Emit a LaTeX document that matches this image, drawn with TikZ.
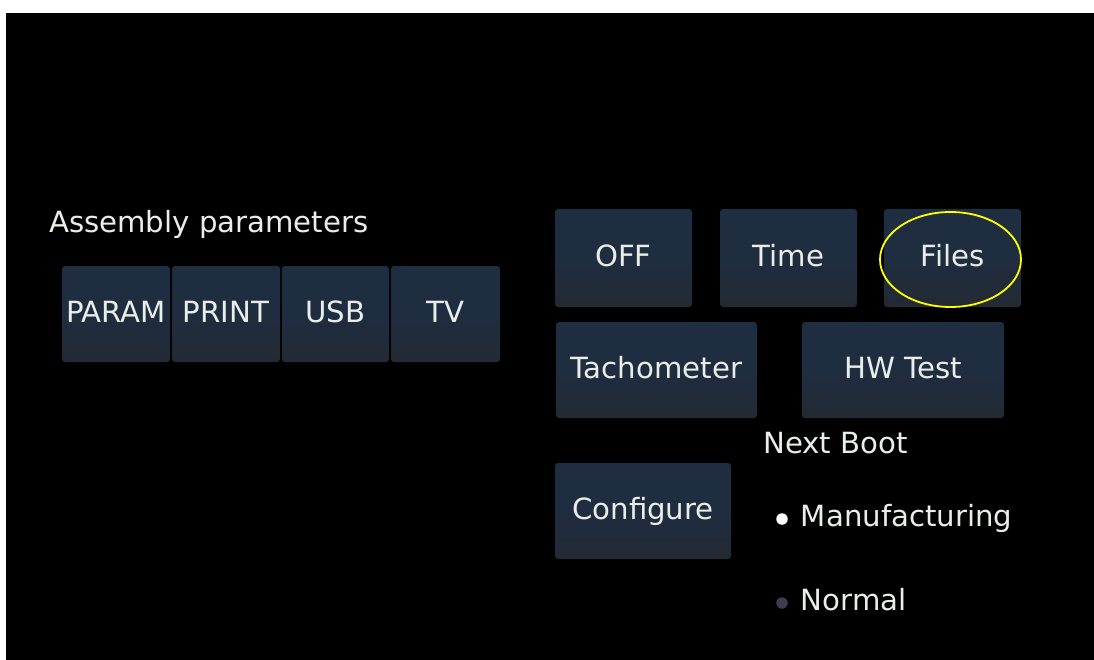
\documentclass[tikz,border=0pt]{standalone}
\usepackage{fontspec}
\setmainfont{DejaVu Sans}
\definecolor{screen}{HTML}{000000}
\definecolor{btntop}{HTML}{1F2D40}
\definecolor{btnbot}{HTML}{232A33}
\definecolor{ink}{HTML}{EAEEE9}
\definecolor{radiooff}{HTML}{3C3D4E}
\definecolor{hilite}{HTML}{FFFF00}
\tikzset{
  uitext/.style={text=ink, font=\fontsize{29.2}{36}\selectfont, inner sep=0pt},
  btn/.style={uitext, rounded corners=3pt,
    top color=btntop, bottom color=btnbot, middle color=btntop,
    text height=22pt, text depth=6pt},
  caption/.style={uitext, anchor=base west},
  radio/.style={circle, inner sep=0pt, minimum size=11.5pt},
}
\begin{document}
\begin{tikzpicture}[x=1pt, y=-1pt]
  % page and screen area
  \useasboundingbox (0,0) rectangle (1094,660);
  \fill[white] (0,0) rectangle (1094,660);
  \fill[screen] (6,13) rectangle (1094,660);

  % assembly parameter group
  \node[caption] (asm) at (49,232.7) {Assembly parameters};
  \node[btn, minimum width=108pt, minimum height=96pt] (param) at (116,314) {PARAM};
  \node[btn, minimum width=108pt, minimum height=96pt] (print) at (226,314) {PRINT};
  \node[btn, minimum width=107pt, minimum height=96pt] (usb)   at (335.5,314) {USB};
  \node[btn, minimum width=109pt, minimum height=96pt] (tv)    at (445.5,314) {TV};

  % system buttons
  \node[btn, minimum width=137pt, minimum height=98pt] (off)   at (623.5,258) {OFF};
  \node[btn, minimum width=137pt, minimum height=98pt] (time)  at (788.5,258) {Time};
  \node[btn, minimum width=137pt, minimum height=98pt] (files) at (952.5,258) {Files};
  \node[btn, minimum width=201pt, minimum height=96pt] (tacho) at (656.5,370) {Tachometer};
  \node[btn, minimum width=202pt, minimum height=96pt] (hwtest) at (903,370) {HW Test};
  \node[btn, minimum width=176pt, minimum height=96pt] (config) at (643,511) {Configure};

  % highlight around the Files button
  \draw[hilite, line width=1.8pt] (950.5,259.5) ellipse [x radius=70.5, y radius=47.5];

  % next boot selection
  \node[caption] (nextboot) at (763,453.5) {Next Boot};
  \node[radio, fill=white] (rmanu) at (782,519) {};
  \node[caption] (manu) at (800.7,526.7) {Manufacturing};
  \node[radio, fill=radiooff] (rnorm) at (782,603) {};
  \node[caption] (norm) at (800.7,610) {Normal};
\end{tikzpicture}
\end{document}
